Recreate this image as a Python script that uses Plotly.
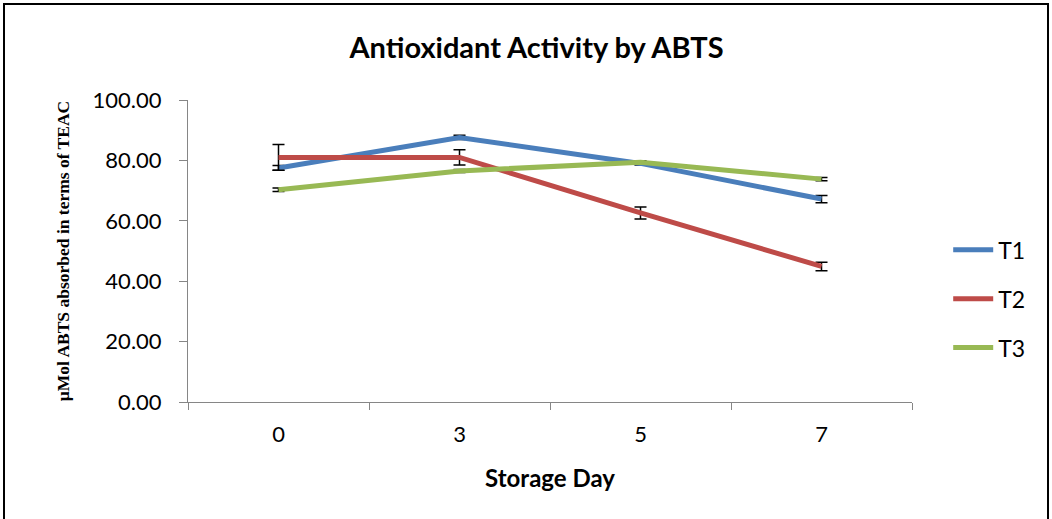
import plotly.graph_objects as go

days = ["0", "3", "5", "7"]
t1 = [77.5, 87.6, 79.0, 67.2]
t2 = [81.0, 81.0, 62.6, 44.9]
t3 = [70.3, 76.5, 79.4, 73.8]
t1_err = [0.8, 0.7, 0.5, 1.2]
t2_err = [4.3, 2.5, 2.0, 1.4]
t3_err = [0.6, 0.5, 0.5, 0.5]

names = ["T1", "T2", "T3"]
colors = ["#4A7EBB", "#BE4B48", "#98B954"]

fig = go.Figure()
for i, (nm, vals, err) in enumerate(zip(names, [t1, t2, t3], [t1_err, t2_err, t3_err])):
    fig.add_trace(go.Scatter(
        x=days, y=vals, name=nm, mode="lines",
        line=dict(color=colors[i], width=5),
        legendgroup=nm,
        error_y=dict(type="data", array=err, visible=True, color="black", thickness=1.5, width=6),
    ))

fig.update_layout(
    width=1052, height=519,
    margin=dict(l=188, r=140, t=100, b=117, autoexpand=False),
    plot_bgcolor="white", paper_bgcolor="white",
    title=dict(text="<b>Antioxidant Activity by ABTS</b>", x=0.51, xanchor="center",
               y=1 - 48 / 519, yanchor="middle",
               font=dict(family="Lato, Open Sans, sans-serif", size=29, color="black")),
    xaxis=dict(type="category", range=[-0.5, 3.5], tickson="boundaries", ticks="outside", ticklen=7,
               tickcolor="#868686", showline=True, linecolor="#868686", linewidth=1,
               showgrid=False, automargin=False, ticklabelstandoff=13,
               tickfont=dict(family="Lato, sans-serif", size=22, color="black"),
               title=dict(text="<b>Storage Day</b>", standoff=23,
                          font=dict(family="Lato, sans-serif", size=24, color="black"))),
    yaxis=dict(range=[0, 100], dtick=20, tickformat=".2f", ticks="outside", ticklen=8,
               tickcolor="#868686", showline=True, linecolor="#868686", linewidth=1,
               showgrid=False, zeroline=False, automargin=False, ticklabelstandoff=13,
               tickfont=dict(family="Lato, sans-serif", size=22, color="black"),
               title=dict(text="<b>µMol ABTS absorbed in terms of TEAC</b>", standoff=18,
                          font=dict(family="Liberation Serif, serif", size=17.5, color="black"))),
    legend=dict(x=1.05, y=0.575, xanchor="left", yanchor="top", traceorder="grouped",
                tracegroupgap=16, itemwidth=40,
                font=dict(family="Lato, sans-serif", size=23, color="black"),
                bgcolor="rgba(0,0,0,0)"),
    shapes=[dict(type="rect", xref="paper", yref="paper",
                 x0=(4 - 188) / 724, x1=(1048 - 188) / 724,
                 y0=-0.6, y1=(402 - 4) / 302,
                 line=dict(color="black", width=2), fillcolor="rgba(0,0,0,0)", layer="below")],
)

fig.write_html("out.html", config={"displayModeBar": False},
               post_script="document.body.style.margin='0px';")
